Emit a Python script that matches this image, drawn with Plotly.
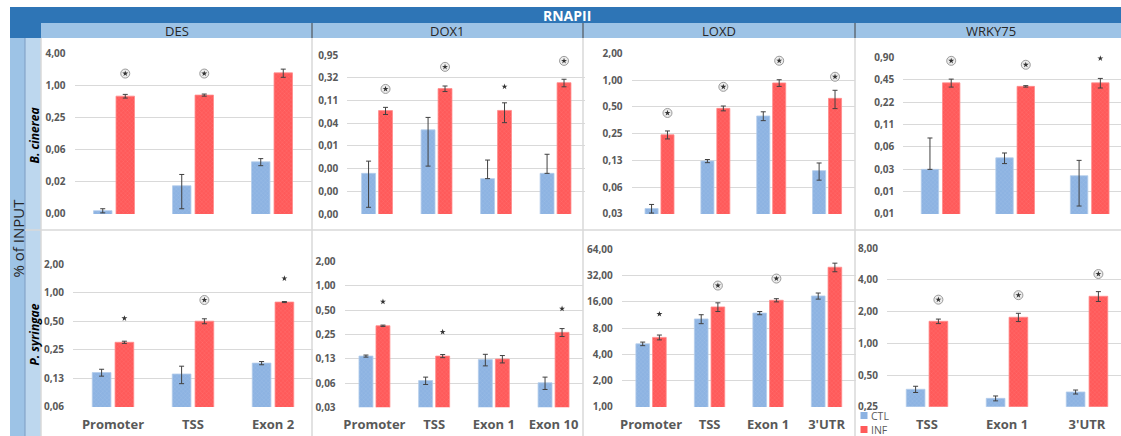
import numpy as np
import plotly.graph_objects as go

W, H = 1121, 436

# ---------------- data ----------------
HEADER = "RNAPII"
Y_TITLE = "% of INPUT"
GENES = ["DES", "DOX1", "LOXD", "WRKY75"]
PATHOGENS = ["B. cinerea", "P. syringae"]
SERIES = ["CTL", "INF"]

CATS_DES = ["Promoter", "TSS", "Exon 2"]
CATS_DOX1 = ["Promoter", "TSS", "Exon 1", "Exon 10"]
CATS_LOXD = ["Promoter", "TSS", "Exon 1", "3'UTR"]
CATS_WRKY75 = ["TSS", "Exon 1", "3'UTR"]

# --- B. cinerea row ---
BC_DES_CTL = [0.0045, 0.0132, 0.037]
BC_DES_CTL_ERR = [0.0004, 0.0083, 0.0056]
BC_DES_INF = [0.63, 0.66, 1.72]
BC_DES_INF_ERR = [0.05, 0.03, 0.30]
BC_DES_SIG = [1.67, 1.67, 4.4]
BC_DES_SIG_TYPE = ["o", "o", "o"]
BC_DES_TICKS = [4, 1, 0.25, 0.0625, 0.015625, 0.00390625]
BC_DES_TICKTEXT = ["4,00", "1,00", "0,25", "0,06", "0,02", "0,00"]

BC_DOX1_CTL = [0.0031, 0.0254, 0.0024, 0.0031]
BC_DOX1_CTL_ERR = [0.0025, 0.021, 0.0035, 0.0047]
BC_DOX1_INF = [0.0645, 0.187, 0.065, 0.249]
BC_DOX1_INF_ERR = [0.011, 0.025, 0.029, 0.045]
BC_DOX1_SIG = [0.184, 0.535, 0.206, 0.715]
BC_DOX1_SIG_TYPE = ["o", "o", "*", "o"]
BC_DOX1_TICKS = [0.95, 0.3167, 0.1056, 0.0352, 0.01173, 0.00391, 0.0013, 0.000434]
BC_DOX1_TICKTEXT = ["0,95", "0,32", "0,11", "0,04", "0,01", "0,00", "0,00", "0,00"]

BC_LOXD_CTL = [0.036, 0.123, 0.395, 0.096]
BC_LOXD_CTL_ERR = [0.004, 0.005, 0.045, 0.021]
BC_LOXD_INF = [0.243, 0.481, 0.929, 0.623]
BC_LOXD_INF_ERR = [0.025, 0.03, 0.08, 0.145]
BC_LOXD_SIG = [0.427, 0.84, 1.65, 1.09]
BC_LOXD_SIG_TYPE = ["o", "o", "o", "o"]
BC_LOXD_TICKS = [2, 1, 0.5, 0.25, 0.125, 0.0625, 0.03125]
BC_LOXD_TICKTEXT = ["2,00", "1,00", "0,50", "0,25", "0,13", "0,06", "0,03"]

BC_WRKY75_CTL = [0.028, 0.040, 0.023]
BC_WRKY75_CTL_ERR = [0.046, 0.0065, 0.014]
BC_WRKY75_INF = [0.408, 0.366, 0.408]
BC_WRKY75_INF_ERR = [0.05, 0.008, 0.06]
BC_WRKY75_SIG = [0.807, 0.714, 0.87]
BC_WRKY75_SIG_TYPE = ["o", "o", "*"]
BC_WRKY75_TICKS = [0.9, 0.45, 0.225, 0.1125, 0.05625, 0.028125, 0.0140625, 0.00703125]
BC_WRKY75_TICKTEXT = ["0,90", "0,45", "0,22", "0,11", "0,06", "0,03", "0,01", "0,01"]

# --- P. syringae row ---
PS_DES_CTL = [0.144, 0.139, 0.181]
PS_DES_CTL_ERR = [0.012, 0.029, 0.007]
PS_DES_INF = [0.30, 0.50, 0.795]
PS_DES_INF_ERR = [0.008, 0.03, 0.01]
PS_DES_SIG = [0.536, 0.836, 1.41]
PS_DES_SIG_TYPE = ["*", "o", "*"]
PS_DES_TICKS = [2, 1, 0.5, 0.25, 0.125, 0.0625]
PS_DES_TICKTEXT = ["2,00", "1,00", "0,50", "0,25", "0,13", "0,06"]

PS_DOX1_CTL = [0.135, 0.067, 0.122, 0.063]
PS_DOX1_CTL_ERR = [0.004, 0.007, 0.02, 0.011]
PS_DOX1_INF = [0.321, 0.135, 0.124, 0.266]
PS_DOX1_INF_ERR = [0.006, 0.006, 0.013, 0.03]
PS_DOX1_SIG = [0.638, 0.269, None, 0.522]
PS_DOX1_SIG_TYPE = ["*", "*", "", "*"]
PS_DOX1_TICKS = [2, 1, 0.5, 0.25, 0.125, 0.0625, 0.03125]
PS_DOX1_TICKTEXT = ["2,00", "1,00", "0,50", "0,25", "0,13", "0,06", "0,03"]

PS_LOXD_CTL = [5.29, 10.2, 11.9, 18.7]
PS_LOXD_CTL_ERR = [0.25, 1.2, 0.5, 1.5]
PS_LOXD_INF = [6.27, 14.0, 16.7, 39.9]
PS_LOXD_INF_ERR = [0.4, 1.6, 0.7, 4.5]
PS_LOXD_SIG = [11.6, 24.6, 29.6, 69.2]
PS_LOXD_SIG_TYPE = ["*", "o", "o", "o"]
PS_LOXD_TICKS = [64, 32, 16, 8, 4, 2, 1]
PS_LOXD_TICKTEXT = ["64,00", "32,00", "16,00", "8,00", "4,00", "2,00", "1,00"]

PS_WRKY75_CTL = [0.366, 0.30, 0.345]
PS_WRKY75_CTL_ERR = [0.025, 0.016, 0.015]
PS_WRKY75_INF = [1.62, 1.77, 2.80]
PS_WRKY75_INF_ERR = [0.08, 0.16, 0.3]
PS_WRKY75_SIG = [2.6, 2.87, 4.56]
PS_WRKY75_SIG_TYPE = ["o", "o", "o"]
PS_WRKY75_TICKS = [8, 4, 2, 1, 0.5, 0.25]
PS_WRKY75_TICKTEXT = ["8,00", "4,00", "2,00", "1,00", "0,50", "0,25"]

# ---------------- layout geometry (pixels) ----------------
FONT = "Open Sans"
BLUE = "#8DB3E2"
RED = "#FF5A5A"
GRID = "#D9D9D9"
TXT = "#595959"
DARK_HEAD = "#2E75B6"
LIGHT_HEAD = "#9DC3E6"
LIGHT_STRIP = "#BDD7EE"
SERIES_COLORS = {"CTL": BLUE, "INF": RED}
SERIES_EDGES = {"CTL": "#B4CDEB", "INF": "#FF8C8C"}

BARGAP = 0.43
BARGROUPGAP = 0.18

panels = [
    dict(cats=CATS_DES, ctl=BC_DES_CTL, ctle=BC_DES_CTL_ERR, inf=BC_DES_INF, infe=BC_DES_INF_ERR,
         sig=BC_DES_SIG, sigt=BC_DES_SIG_TYPE, ticks=BC_DES_TICKS, tt=BC_DES_TICKTEXT,
         px=(74.5, 311.5), py=(53.3, 214), bottom=False),
    dict(cats=CATS_DOX1, ctl=BC_DOX1_CTL, ctle=BC_DOX1_CTL_ERR, inf=BC_DOX1_INF, infe=BC_DOX1_INF_ERR,
         sig=BC_DOX1_SIG, sigt=BC_DOX1_SIG_TYPE, ticks=BC_DOX1_TICKS, tt=BC_DOX1_TICKTEXT,
         px=(347.3, 585.3), py=(55, 214), bottom=False),
    dict(cats=CATS_LOXD, ctl=BC_LOXD_CTL, ctle=BC_LOXD_CTL_ERR, inf=BC_LOXD_INF, infe=BC_LOXD_INF_ERR,
         sig=BC_LOXD_SIG, sigt=BC_LOXD_SIG_TYPE, ticks=BC_LOXD_TICKS, tt=BC_LOXD_TICKTEXT,
         px=(631.6, 855), py=(53.3, 214), bottom=False),
    dict(cats=CATS_WRKY75, ctl=BC_WRKY75_CTL, ctle=BC_WRKY75_CTL_ERR, inf=BC_WRKY75_INF, infe=BC_WRKY75_INF_ERR,
         sig=BC_WRKY75_SIG, sigt=BC_WRKY75_SIG_TYPE, ticks=BC_WRKY75_TICKS, tt=BC_WRKY75_TICKTEXT,
         px=(903.3, 1127), py=(57.3, 214), bottom=False),
    dict(cats=CATS_DES, ctl=PS_DES_CTL, ctle=PS_DES_CTL_ERR, inf=PS_DES_INF, infe=PS_DES_INF_ERR,
         sig=PS_DES_SIG, sigt=PS_DES_SIG_TYPE, ticks=PS_DES_TICKS, tt=PS_DES_TICKTEXT,
         px=(73, 313), py=(264, 407), bottom=True),
    dict(cats=CATS_DOX1, ctl=PS_DOX1_CTL, ctle=PS_DOX1_CTL_ERR, inf=PS_DOX1_INF, infe=PS_DOX1_INF_ERR,
         sig=PS_DOX1_SIG, sigt=PS_DOX1_SIG_TYPE, ticks=PS_DOX1_TICKS, tt=PS_DOX1_TICKTEXT,
         px=(344.6, 583.4), py=(261.7, 407.3), bottom=True),
    dict(cats=CATS_LOXD, ctl=PS_LOXD_CTL, ctle=PS_LOXD_CTL_ERR, inf=PS_LOXD_INF, infe=PS_LOXD_INF_ERR,
         sig=PS_LOXD_SIG, sigt=PS_LOXD_SIG_TYPE, ticks=PS_LOXD_TICKS, tt=PS_LOXD_TICKTEXT,
         px=(621.8, 855.8), py=(249.3, 407), bottom=True),
    dict(cats=CATS_WRKY75, ctl=PS_WRKY75_CTL, ctle=PS_WRKY75_CTL_ERR, inf=PS_WRKY75_INF, infe=PS_WRKY75_INF_ERR,
         sig=PS_WRKY75_SIG, sigt=PS_WRKY75_SIG_TYPE, ticks=PS_WRKY75_TICKS, tt=PS_WRKY75_TICKTEXT,
         px=(887, 1127), py=(248.3, 406.7), bottom=True),
]


def fx(px):
    return px / W


def fy(py):
    return 1 - py / H


fig = go.Figure()
layout_axes = {}
inf_offset = (1 - BARGAP) / 4.0

for i, p in enumerate(panels):
    k = i + 1
    xname, yname = f"x{k}", f"y{k}"
    n = len(p["cats"])
    idx = np.arange(n)
    x0, x1 = p["px"]
    x1c = min(x1, W)
    xr = [-0.5, -0.5 + n * (x1c - x0) / (x1 - x0)]

    for name, vals, errs in (("CTL", p["ctl"], p["ctle"]), ("INF", p["inf"], p["infe"])):
        minus = [e if e < v else 0 for v, e in zip(vals, errs)]
        fig.add_trace(go.Bar(
            x=idx, y=vals, name=name, xaxis=xname, yaxis=yname, showlegend=False,
            marker=dict(color=SERIES_COLORS[name], line=dict(color=SERIES_EDGES[name], width=0.8),
                        pattern=dict(shape="x", size=3, solidity=0.1,
                                     fgcolor="white", fgopacity=0.35)),
            error_y=dict(type="data", symmetric=False, array=errs, arrayminus=minus,
                         color="#404040", thickness=1, width=2.5),
        ))

    # significance marks above INF bars
    sx_c, sy_c, sx_s, sy_s = [], [], [], []
    for j, (v, t) in enumerate(zip(p["sig"], p["sigt"])):
        if v is None or t == "":
            continue
        if t == "o":
            sx_c.append(idx[j] + inf_offset)
            sy_c.append(v)
        sx_s.append(idx[j] + inf_offset)
        sy_s.append(v)
    if sx_c:
        fig.add_trace(go.Scatter(
            x=sx_c, y=sy_c, mode="markers", xaxis=xname, yaxis=yname, showlegend=False,
            cliponaxis=False, hoverinfo="skip",
            marker=dict(symbol="circle", size=9, color="#EDEDED",
                        line=dict(color="#9A9A9A", width=1))))
    if sx_s:
        fig.add_trace(go.Scatter(
            x=sx_s, y=sy_s, mode="markers", xaxis=xname, yaxis=yname, showlegend=False,
            cliponaxis=False, hoverinfo="skip",
            marker=dict(symbol="star", size=4.5, color="#333333", line=dict(width=0))))

    ticks = p["ticks"]
    y0, y1 = p["py"]
    layout_axes["xaxis" + (str(k) if k > 1 else "")] = dict(
        domain=[fx(x0), fx(x1c)], range=xr, anchor=yname, automargin=False,
        tickmode="array", tickvals=idx, ticktext=p["cats"],
        showticklabels=p["bottom"], ticks="", showgrid=False, zeroline=False, showline=False,
        tickfont=dict(family=FONT, size=13, color=TXT, weight="bold"),
        ticklabelstandoff=8, fixedrange=True,
    )
    layout_axes["yaxis" + (str(k) if k > 1 else "")] = dict(
        domain=[fy(y1), fy(y0)], anchor=xname, type="log", automargin=False,
        range=[np.log10(min(ticks)) - 1e-4, np.log10(max(ticks)) + 1e-4],
        tickmode="array", tickvals=ticks, ticktext=p["tt"],
        ticks="", showgrid=True, gridcolor=GRID, gridwidth=1,
        zeroline=False, showline=False,
        tickfont=dict(family=FONT, size=10, color=TXT, weight="bold"),
        ticklabelstandoff=8, fixedrange=True,
    )

shapes = []


def rect(x0, y0, x1, y1, color, layer="below"):
    shapes.append(dict(type="rect", xref="paper", yref="paper",
                       x0=fx(x0), x1=fx(x1), y0=fy(y1), y1=fy(y0),
                       fillcolor=color, line=dict(width=0), layer=layer))


def line(x0, y0, x1, y1, color, width=1):
    shapes.append(dict(type="line", xref="paper", yref="paper",
                       x0=fx(x0), x1=fx(x1), y0=fy(y0), y1=fy(y1),
                       line=dict(color=color, width=width), layer="above"))


rect(10, 7, W, 23, DARK_HEAD)
rect(10, 7, 41, 38, DARK_HEAD)
rect(41, 23, W, 38, LIGHT_HEAD)
rect(10, 38, 25, H, LIGHT_HEAD)
rect(25, 38, 41, H, LIGHT_STRIP)
line(25, 38, 25, H, "#7C9CC2", 1)
for xd in (312, 583, 855):
    line(xd, 23, xd, 38, "#404040", 1)
    line(xd, 38, xd, H, GRID, 1.5)
line(41, 38, 41, H, GRID, 1.5)
line(25, 230, W, 230, GRID, 1.5)


def ann(text, x, y, size, color, angle=0, weight="normal", xanchor="center"):
    return dict(text=text, x=fx(x), y=fy(y), xref="paper", yref="paper", showarrow=False,
                xanchor=xanchor, yanchor="middle", textangle=angle,
                font=dict(family=FONT, size=size, color=color, weight=weight))


annotations = [
    ann(HEADER, 566.5, 15.3, 14, "white", weight="bold"),
    ann(Y_TITLE, 17.5, 238, 15, "#262626", angle=-90),
]
for g, cx in zip(GENES, (176.5, 447.5, 719, 991)):
    annotations.append(ann(g, cx, 30.5, 13, "#262626"))
for ptxt, cy in zip(PATHOGENS, (136, 335)):
    annotations.append(ann(f"<b><i>{ptxt}</i></b>", 33.5, cy, 12, "#000000", angle=-90))

# manual compact legend (bottom-left of the last panel)
for s, ly in zip(SERIES, (415.5, 429.5)):
    rect(860.5, ly - 3.5, 867.5, ly + 3.5, SERIES_COLORS[s], layer="above")
    annotations.append(ann(s, 868.5, ly, 10.5, TXT, xanchor="left"))

fig.update_layout(
    width=W, height=H, margin=dict(l=0, r=0, t=0, b=0, autoexpand=False),
    paper_bgcolor="white", plot_bgcolor="rgba(0,0,0,0)",
    barmode="group", bargap=BARGAP, bargroupgap=BARGROUPGAP,
    shapes=shapes, annotations=annotations,
    showlegend=False,
    **layout_axes,
)

fig.write_html("out.html", config={"displayModeBar": False},
               post_script="document.body.style.margin='0px';")
